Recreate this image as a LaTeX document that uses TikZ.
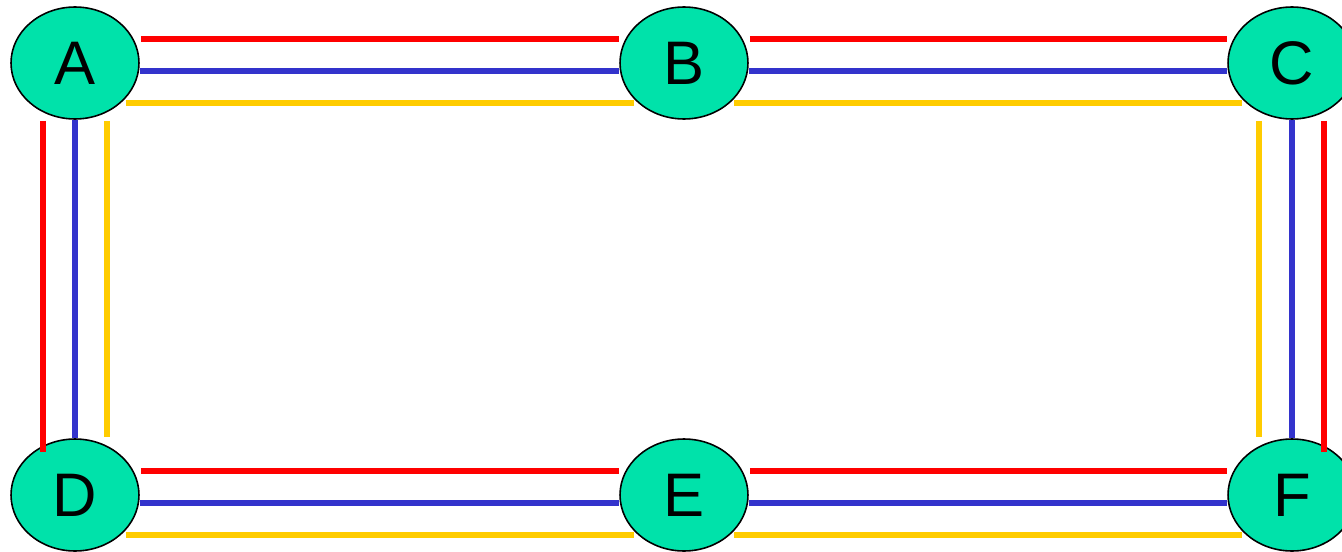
\documentclass[tikz,border=0pt]{standalone}
\usepackage{fontspec}
\setmainfont{Liberation Sans}
\usepackage{tikz}
\usetikzlibrary{shapes.geometric,calc}
\definecolor{stationgreen}{RGB}{0,226,170}
\definecolor{lnred}{RGB}{255,0,0}
\definecolor{lnblue}{RGB}{51,51,204}
\definecolor{lnyellow}{RGB}{255,204,0}

\begin{document}
\begin{tikzpicture}[x=0.02cm,y=-0.02cm,
    station/.style={ellipse,draw=black,line width=0.9pt,fill=stationgreen,
        minimum width=2.56cm,minimum height=2.24cm,inner sep=0pt,
        font=\fontsize{35}{40}\selectfont},
    redline/.style={draw=lnred,line width=2.9pt},
    blueline/.style={draw=lnblue,line width=2.9pt},
    yellowline/.style={draw=lnyellow,line width=2.9pt}]
        \useasboundingbox (0,0) rectangle (1342,551);
        \node[station] (A) at (75,63) {A};
        \node[station] (B) at (684,63) {B};
        \node[station] (C) at (1292,63) {C};
        \node[station] (D) at (75,495) {D};
        \node[station] (E) at (684,495) {E};
        \node[station] (F) at (1292,495) {F};
        \draw[redline] ($(A.east)+(1,-24)$) -- ($(B.west)+(0,-24)$);
        \draw[blueline] ($(A.east)+(0,8)$) -- ($(B.west)+(0,8)$);
        \draw[yellowline] ($(A.east)+(-14,40)$) -- ($(B.west)+(15,40)$);
        \draw[redline] ($(B.east)+(1,-24)$) -- ($(C.west)+(0,-24)$);
        \draw[blueline] ($(B.east)+(0,8)$) -- ($(C.west)+(0,8)$);
        \draw[yellowline] ($(B.east)+(-15,40)$) -- ($(C.west)+(15,40)$);
        \draw[redline] ($(D.east)+(1,-24)$) -- ($(E.west)+(0,-24)$);
        \draw[blueline] ($(D.east)+(0,8)$) -- ($(E.west)+(0,8)$);
        \draw[yellowline] ($(D.east)+(-14,40)$) -- ($(E.west)+(15,40)$);
        \draw[redline] ($(E.east)+(1,-24)$) -- ($(F.west)+(0,-24)$);
        \draw[blueline] ($(E.east)+(0,8)$) -- ($(F.west)+(0,8)$);
        \draw[yellowline] ($(E.east)+(-15,40)$) -- ($(F.west)+(15,40)$);
        \draw[redline] ($(A.south)+(-32,1)$) -- ($(D.north)+(-32,14)$);
        \draw[blueline] (A.south) -- (D.north);
        \draw[yellowline] ($(A.south)+(32,1)$) -- ($(D.north)+(32,-1)$);
        \draw[yellowline] ($(C.south)+(-33,1)$) -- ($(F.north)+(-33,-1)$);
        \draw[blueline] (C.south) -- (F.north);
        \draw[redline] ($(C.south)+(32,1)$) -- ($(F.north)+(32,14)$);
    \end{tikzpicture}
\end{document}
